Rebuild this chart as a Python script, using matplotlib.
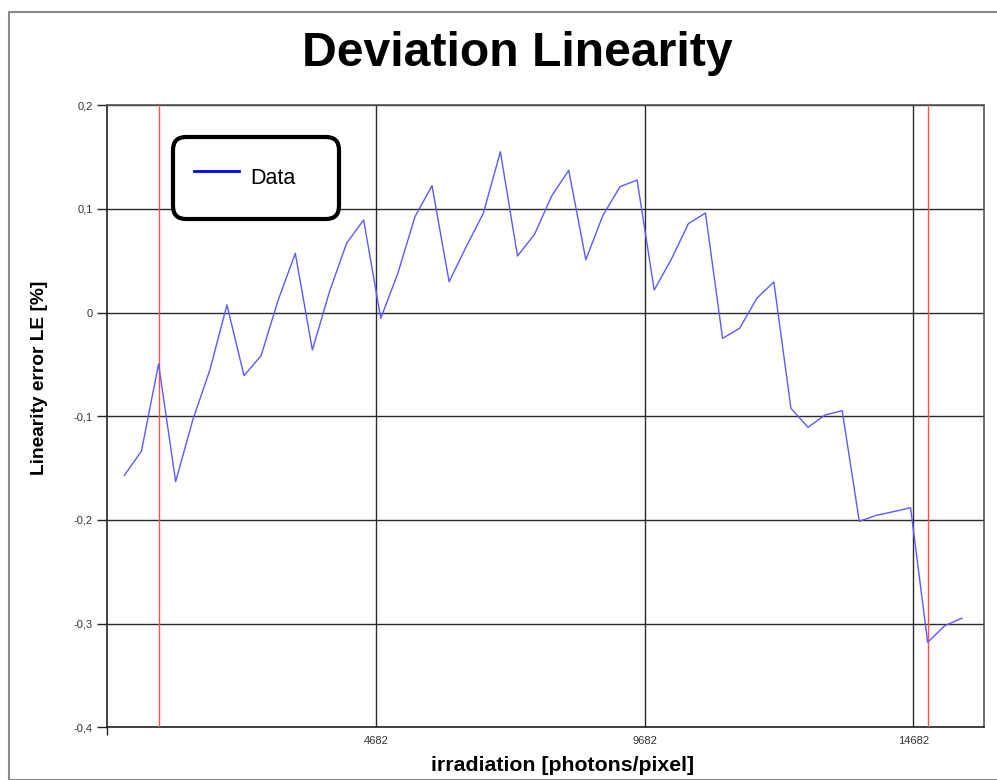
import matplotlib
matplotlib.use("Agg")
import matplotlib.pyplot as plt
from matplotlib.lines import Line2D
from matplotlib.patches import Rectangle
from matplotlib.ticker import FixedLocator

plt.rcParams['font.family'] = ['Liberation Sans', 'DejaVu Sans']

# ---- data ----
x_step = 318
x_values = [i * x_step for i in range(50)]
le_values = [
    -0.157, -0.1335, -0.0495, -0.163, -0.1036, -0.0553, 0.0074, -0.0608, -0.0415, 0.0122,
    0.0572, -0.036, 0.0202, 0.0669, 0.0894, -0.0055, 0.0379, 0.0925, 0.1224, 0.0298,
    0.0636, 0.0958, 0.1552, 0.0546, 0.0756, 0.1125, 0.1373, 0.0511, 0.0939, 0.1215,
    0.1279, 0.0218, 0.0514, 0.0858, 0.0961, -0.0248, -0.0151, 0.0138, 0.0296, -0.0923,
    -0.1106, -0.0987, -0.0946, -0.2013, -0.1955, -0.192, -0.1882, -0.318, -0.302, -0.2948,
]
fit_range = [636, 14946]          # red vertical markers
x_min, x_max = -318, 16000
y_min, y_max = -0.4, 0.2
x_ticks = [4682, 9682, 14682]
x_tick_labels = ['4682', '9682', '14682']
y_ticks = [-0.4, -0.3, -0.2, -0.1, 0.0, 0.1, 0.2]
y_tick_labels = ['-0,4', '-0,3', '-0,2', '-0,1', '0', '0,1', '0,2']

title = 'Deviation Linearity'
x_label = 'irradiation [photons/pixel]'
y_label = 'Linearity error LE [%]'
legend_label = 'Data'

# ---- figure ----
W, H = 997, 780
fig = plt.figure(figsize=(W / 100, H / 100), dpi=100)
fig.patch.set_facecolor('white')

# outer frame
fig.patches.append(Rectangle((9 / W, 0), 1.0, 1 - 12 / H, transform=fig.transFigure,
                             fill=False, edgecolor='#8a8a8a', linewidth=1.5, clip_on=False))

ax = fig.add_axes([107.3 / W, 1 - 727.3 / H, (984.3 - 107.3) / W, (727.3 - 105.3) / H])
ax.set_xlim(x_min, x_max)
ax.set_ylim(y_min, y_max)

# grid
ax.set_yticks(y_ticks)
ax.set_yticklabels(y_tick_labels)
ax.set_xticks(x_ticks)
ax.set_xticklabels(x_tick_labels)
ax.xaxis.set_minor_locator(FixedLocator([x_min]))
ax.grid(True, which='major', color='#2a2a2a', linewidth=1.0)
ax.set_axisbelow(True)

ax.tick_params(axis='y', which='major', length=7.5, width=1, color='#222222', pad=3,
               labelsize=8, labelcolor='#333333')
ax.tick_params(axis='x', which='major', length=0, pad=6.5, labelsize=8, labelcolor='#333333')
ax.tick_params(axis='x', which='minor', length=6, width=1, color='#222222')

for s in ['left', 'bottom']:
    ax.spines[s].set_color('#222222')
    ax.spines[s].set_linewidth(1.2)
for s in ['top', 'right']:
    ax.spines[s].set_color('#555555')
    ax.spines[s].set_linewidth(1.2)

for xv in fit_range:
    ax.axvline(xv, color='#ff5050', linewidth=1.0, zorder=3)

ax.plot(x_values, le_values, color='#5a5aff', linewidth=1.0, zorder=4)

# labels
fig.text(517 / W, 1 - 53 / H, title, ha='center', va='center', fontsize=34.7, fontweight='bold')
ax.set_xlabel(x_label, fontsize=15.3, fontweight='bold')
ax.xaxis.set_label_coords((563 - 107.3) / 877, (727.3 - 756) / 622)
ax.set_ylabel(y_label, fontsize=13.8, fontweight='bold')
ax.yaxis.set_label_coords((48 - 107.3) / 877, (727.3 - 377.5) / 622)

# legend
handle = Line2D([], [], color='#0000ff', linewidth=2)
leg = ax.legend([handle], [legend_label], loc='upper left',
                bbox_to_anchor=(172.7 / W, 1 - 136.7 / H - 0.01, (339.3 - 172.7) / W, 0.01),
                bbox_transform=fig.transFigure, mode='expand',
                fontsize=15.5, borderpad=1.0, handlelength=2.1, handletextpad=0.5,
                handleheight=2.4, borderaxespad=0, framealpha=1, fancybox=True)
frame = leg.get_frame()
frame.set_edgecolor('black')
frame.set_linewidth(3)
frame.set_boxstyle('round', pad=0, rounding_size=0.6)

fig.savefig('out.png', dpi=100)
